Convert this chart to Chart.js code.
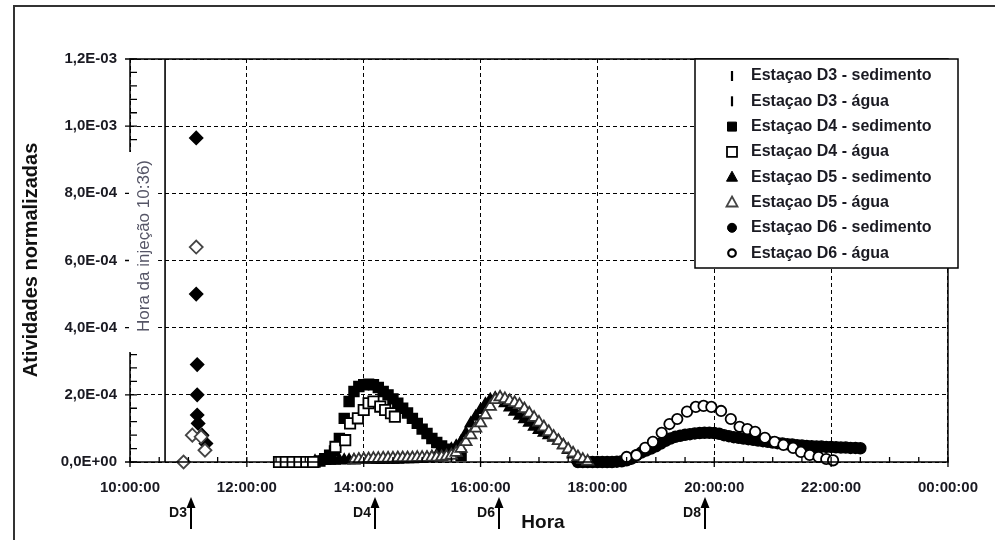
<!DOCTYPE html>
<html lang="pt">
<head>
  <meta charset="UTF-8" />
  <title>Atividades normalizadas</title>
  <script src="https://cdn.jsdelivr.net/npm/chart.js"></script>
  <style>
    body { margin: 0; background: #fff; }
    #wrap { width: 995px; height: 540px; }
  </style>
</head>
<body>
  <div id="wrap"><canvas id="grafico" width="995" height="540"></canvas></div>

  <script>
    // eixo X (horas) e eixo Y
    const xTicks = [10, 12, 14, 16, 18, 20, 22, 24];
    const xTickLabels = ['10:00:00', '12:00:00', '14:00:00', '16:00:00', '18:00:00', '20:00:00', '22:00:00', '00:00:00'];
    const yTicks = [0, 2e-4, 4e-4, 6e-4, 8e-4, 1e-3, 1.2e-3];
    const yTickLabels = ['0,0E+00', '2,0E-04', '4,0E-04', '6,0E-04', '8,0E-04', '1,0E-03', '1,2E-03'];

    // valores em unidades de 1E-04
    const d3SedT = ['11:08', '11:08', '11:09', '11:09', '11:09', '11:10', '11:14', '11:18'];
    const d3SedV = [9.65, 5.0, 2.9, 2.0, 1.4, 1.15, 0.8, 0.55];
    const d3AguaT = ['10:55', '11:04', '11:08', '11:13', '11:17'];
    const d3AguaV = [0, 0.8, 6.4, 0.75, 0.35];

    const d4SedT = ['13:00','13:05','13:10','13:15','13:20','13:25','13:30','13:35','13:40','13:45','13:50','13:55',
      '14:00','14:05','14:10','14:15','14:20','14:25','14:30','14:35','14:40','14:45','14:50','14:55',
      '15:00','15:05','15:10','15:15','15:20','15:25','15:30','15:35','15:40'];
    const d4SedV = [0, 0, 0, 0.03, 0.1, 0.2, 0.33, 0.7, 1.3, 1.8, 2.1, 2.25,
      2.3, 2.32, 2.3, 2.22, 2.1, 2.0, 1.88, 1.75, 1.6, 1.46, 1.3, 1.15,
      0.98, 0.85, 0.7, 0.58, 0.48, 0.38, 0.3, 0.25, 0.2];
    const d4AguaT = ['12:33','12:40','12:47','12:54','13:01','13:08','13:31','13:41','13:46','13:54','14:00','14:05','14:10','14:17','14:22','14:28','14:32'];
    const d4AguaV = [0, 0, 0, 0, 0, 0, 0.45, 0.65, 1.15, 1.3, 1.55, 1.75, 1.8, 1.65, 1.55, 1.45, 1.35];

    const d5SedT = ['13:10','13:15','13:20','13:25','13:30','13:35','13:40','13:45','13:50','13:55',
      '14:00','14:05','14:10','14:15','14:20','14:25','14:30','14:35','14:40','14:45','14:50','14:55',
      '15:00','15:05','15:10','15:15','15:20','15:25','15:30','15:35','15:40','15:45','15:50','15:55',
      '16:00','16:05','16:10','16:15','16:20','16:25','16:30','16:35','16:40','16:45','16:50','16:55',
      '17:00','17:05','17:10','17:15','17:20','17:25','17:30','17:35','17:40','17:45'];
    const d5SedV = [0.02, 0.03, 0.03, 0.04, 0.04, 0.05, 0.05, 0.05, 0.05, 0.06,
      0.06, 0.06, 0.06, 0.06, 0.07, 0.07, 0.07, 0.07, 0.08, 0.08, 0.08, 0.09,
      0.1, 0.12, 0.15, 0.2, 0.26, 0.32, 0.38, 0.47, 0.6, 0.85, 1.15, 1.35,
      1.55, 1.72, 1.85, 1.9, 1.85, 1.75, 1.62, 1.5, 1.38, 1.27, 1.17, 1.05,
      0.95, 0.87, 0.8, 0.72, 0.64, 0.5, 0.36, 0.22, 0.08, 0.02];
    const d5AguaT = ['13:50','13:55',
      '14:00','14:05','14:10','14:15','14:20','14:25','14:30','14:35','14:40','14:45','14:50','14:55',
      '15:00','15:05','15:10','15:15','15:20','15:25','15:30','15:35','15:40','15:45','15:50','15:55',
      '16:00','16:05','16:10','16:15','16:20','16:25','16:30','16:35','16:40','16:45','16:50','16:55',
      '17:00','17:05','17:10','17:15','17:20','17:25','17:30','17:35','17:40','17:45','17:50'];
    const d5AguaV = [0.05, 0.07,
      0.08, 0.09, 0.1, 0.1, 0.11, 0.11, 0.11, 0.12, 0.12, 0.12, 0.12, 0.13,
      0.13, 0.13, 0.14, 0.14, 0.15, 0.17, 0.2, 0.28, 0.4, 0.6, 0.8, 1.0,
      1.16, 1.4, 1.65, 1.85, 1.93, 1.88, 1.82, 1.76, 1.7, 1.58, 1.45, 1.32,
      1.18, 1.04, 0.9, 0.76, 0.63, 0.5, 0.38, 0.26, 0.15, 0.07, 0.02];

    const d6SedT = ['17:40','17:45','17:50','17:55',
      '18:00','18:05','18:10','18:15','18:20','18:25','18:30','18:35','18:40','18:45','18:50','18:55',
      '19:00','19:05','19:10','19:15','19:20','19:25','19:30','19:35','19:40','19:45','19:50','19:55',
      '20:00','20:05','20:10','20:15','20:20','20:25','20:30','20:35','20:40','20:45','20:50','20:55',
      '21:00','21:05','21:10','21:15','21:20','21:25','21:30','21:35','21:40','21:45','21:50','21:55',
      '22:00','22:05','22:10','22:15','22:20','22:25','22:30'];
    const d6SedV = [0, 0, 0, 0,
      0, 0, 0, 0, 0.01, 0.02, 0.05, 0.1, 0.2, 0.28, 0.34, 0.4,
      0.47, 0.55, 0.63, 0.7, 0.75, 0.78, 0.81, 0.83, 0.85, 0.86, 0.87, 0.87,
      0.86, 0.84, 0.8, 0.77, 0.74, 0.72, 0.7, 0.68, 0.66, 0.64, 0.62, 0.6,
      0.58, 0.56, 0.55, 0.53, 0.52, 0.5, 0.49, 0.48, 0.47, 0.46, 0.46, 0.45,
      0.45, 0.44, 0.43, 0.43, 0.42, 0.42, 0.41];
    const d6AguaT = ['18:30','18:40','18:49','18:57','19:06','19:14','19:22','19:32','19:41','19:49','19:57','20:07','20:17',
      '20:26','20:34','20:42','20:52','21:02','21:11','21:21','21:29','21:38','21:47','21:55','22:02'];
    const d6AguaV = [0.15, 0.2, 0.42, 0.6, 0.87, 1.13, 1.28, 1.5, 1.64, 1.67, 1.64, 1.52, 1.28,
      1.05, 0.98, 0.9, 0.72, 0.6, 0.51, 0.42, 0.3, 0.21, 0.15, 0.09, 0.05];

    // setas de pico e hora da injeção
    const setaT = ['11:03', '14:12', '16:19', '19:50'];
    const setaLbl = ['D3', 'D4', 'D6', 'D8'];
    const injecaoT = '10:36';

    const horas = s => { const [h, m] = s.split(':').map(Number); return h + m / 60; };
    const pontos = (t, v) => t.map((s, i) => ({ x: horas(s), y: v[i] * 1e-4 }));

    const fonte = '"Liberation Sans", Arial, sans-serif';
    Chart.defaults.font.family = fonte;

    const serie = (label, t, v, estilo, cheio, raio, ordem, borda) => ({
      label, data: pontos(t, v),
      pointStyle: estilo, pointRadius: raio, pointHoverRadius: raio,
      backgroundColor: cheio ? '#000' : '#fff',
      borderColor: borda || '#000', pointBorderWidth: cheio ? 1.5 : 1.8,
      showLine: false, clip: false, order: ordem
    });

    const datasets = [
      serie('Estaçao D3 - sedimento', d3SedT, d3SedV, 'rectRot', true, 6.5, 1),
      serie('Estaçao D3 - água', d3AguaT, d3AguaV, 'rectRot', false, 6.5, 0, '#444'),
      serie('Estaçao D4 - sedimento', d4SedT, d4SedV, 'rect', true, 7, 1),
      serie('Estaçao D4 - água', d4AguaT, d4AguaV, 'rect', false, 7.3, 0),
      serie('Estaçao D5 - sedimento', d5SedT, d5SedV, 'triangle', true, 6.5, 1),
      serie('Estaçao D5 - água', d5AguaT, d5AguaV, 'triangle', false, 6.5, 0, '#333'),
      serie('Estaçao D6 - sedimento', d6SedT, d6SedV, 'circle', true, 5.5, 1),
      serie('Estaçao D6 - água', d6AguaT, d6AguaV, 'circle', false, 5.2, 0)
    ];

    // símbolo da legenda
    function simbolo(ctx, i, x, y) {
      ctx.beginPath();
      if (i < 2) {
        ctx.lineWidth = 2.2; ctx.strokeStyle = '#000';
        ctx.moveTo(x, y - 5); ctx.lineTo(x, y + 5); ctx.stroke();
        return;
      }
      const cheio = i % 2 === 0;
      if (i < 4) { const s = cheio ? 4.5 : 5; ctx.rect(x - s, y - s, 2 * s, 2 * s); }
      else if (i < 6) { ctx.moveTo(x, y - 6); ctx.lineTo(x + 5.5, y + 4); ctx.lineTo(x - 5.5, y + 4); ctx.closePath(); }
      else { ctx.arc(x, y, cheio ? 4.5 : 3.8, 0, Math.PI * 2); }
      ctx.fillStyle = cheio ? '#000' : '#fff';
      ctx.fill();
      ctx.lineWidth = cheio ? 1 : (i === 7 ? 2.2 : 1.8);
      ctx.strokeStyle = i === 5 ? '#444' : '#000';
      ctx.stroke();
    }

    const decoracao = {
      id: 'decoracao',
      afterDraw(chart) {
        const { ctx, chartArea: a, scales: { x, y } } = chart;
        ctx.save();

        // moldura externa
        ctx.strokeStyle = '#333'; ctx.lineWidth = 2;
        ctx.beginPath(); ctx.moveTo(14, 540); ctx.lineTo(14, 6); ctx.lineTo(995, 6); ctx.stroke();

        // moldura do gráfico
        ctx.strokeStyle = '#000'; ctx.lineWidth = 1.5;
        ctx.strokeRect(a.left, a.top, a.right - a.left, a.bottom - a.top);

        // marcas dos eixos
        ctx.lineWidth = 1.3;
        ctx.beginPath();
        for (let k = 0; k <= 28; k++) {
          const px = x.getPixelForValue(10 + k / 2);
          ctx.moveTo(px, a.bottom + (k % 4 === 0 ? 5 : 0));
          ctx.lineTo(px, a.bottom - 5);
        }
        for (let k = 0; k <= 30; k++) {
          const py = y.getPixelForValue(k * 4e-5);
          ctx.moveTo(a.left - (k % 5 === 0 ? 5 : 0), py);
          ctx.lineTo(a.left + 7, py);
        }
        ctx.stroke();

        // hora da injeção
        const xi = x.getPixelForValue(horas(injecaoT));
        ctx.lineWidth = 1.6;
        ctx.beginPath(); ctx.moveTo(xi, a.top); ctx.lineTo(xi, a.bottom); ctx.stroke();
        ctx.fillStyle = '#fff';
        ctx.fillRect(a.left - 1, 152, xi - a.left - 6, 200);
        ctx.save();
        ctx.translate(144, 246);
        ctx.rotate(-Math.PI / 2);
        ctx.fillStyle = '#556';
        ctx.font = '17px ' + fonte;
        ctx.textAlign = 'center'; ctx.textBaseline = 'middle';
        ctx.fillText('Hora da injeção 10:36)', 0, 0);
        ctx.restore();

        // título do eixo Y
        ctx.save();
        ctx.translate(31, 260);
        ctx.rotate(-Math.PI / 2);
        ctx.fillStyle = '#111';
        ctx.font = 'bold 20px ' + fonte;
        ctx.textAlign = 'center'; ctx.textBaseline = 'middle';
        ctx.fillText('Atividades normalizadas', 0, 0);
        ctx.restore();

        // título do eixo X
        ctx.fillStyle = '#111';
        ctx.font = 'bold 19px ' + fonte;
        ctx.textAlign = 'center'; ctx.textBaseline = 'middle';
        ctx.fillText('Hora', 543, 523);

        // setas
        ctx.font = 'bold 14px ' + fonte;
        ctx.textAlign = 'right';
        setaT.forEach((t, i) => {
          const px = Math.round(x.getPixelForValue(horas(t)));
          ctx.strokeStyle = '#000'; ctx.fillStyle = '#000'; ctx.lineWidth = 2;
          ctx.beginPath(); ctx.moveTo(px, 506); ctx.lineTo(px, 529); ctx.stroke();
          ctx.beginPath(); ctx.moveTo(px, 497); ctx.lineTo(px - 4.5, 508); ctx.lineTo(px + 4.5, 508); ctx.closePath(); ctx.fill();
          ctx.fillStyle = '#111';
          ctx.fillText(setaLbl[i], px - 4, 513);
        });

        // legenda
        const lx = 695, ly = 59, lw = 263, lh = 209;
        ctx.fillStyle = '#fff';
        ctx.fillRect(lx, ly, lw, lh);
        ctx.strokeStyle = '#000'; ctx.lineWidth = 1.5;
        ctx.strokeRect(lx, ly, lw, lh);
        ctx.font = 'bold 16px ' + fonte;
        ctx.textAlign = 'left'; ctx.textBaseline = 'middle';
        chart.data.datasets.forEach((ds, i) => {
          const ry = 76 + i * 25.3;
          simbolo(ctx, i, 732, ry);
          ctx.fillStyle = '#1a1a22';
          ctx.fillText(ds.label, 751, ry);
        });

        ctx.restore();
      }
    };

    new Chart(document.getElementById('grafico'), {
      type: 'scatter',
      data: { datasets },
      options: {
        responsive: false,
        animation: false,
        layout: { padding: { top: 59, right: 31, left: 0, bottom: 0 } },
        plugins: { legend: { display: false }, tooltip: { enabled: false } },
        scales: {
          x: {
            type: 'linear', min: 10, max: 24,
            afterBuildTicks: s => { s.ticks = xTicks.map(v => ({ value: v })); },
            afterFit: s => { s.height = 78; },
            ticks: {
              callback: (v) => xTickLabels[xTicks.indexOf(v)],
              padding: 17, maxRotation: 0, autoSkip: false,
              color: '#1a1a22', font: { size: 15, weight: 'bold' }
            },
            grid: { color: '#000', lineWidth: 1, drawTicks: false },
            border: { display: false, dash: [4, 3] }
          },
          y: {
            type: 'linear', min: 0, max: 1.2e-3,
            afterBuildTicks: s => { s.ticks = yTicks.map(v => ({ value: v })); },
            afterFit: s => { s.width = 130; },
            ticks: {
              callback: (v) => yTickLabels[yTicks.indexOf(v)],
              padding: 13, autoSkip: false,
              color: '#1a1a22', font: { size: 15, weight: 'bold' }
            },
            grid: { color: '#000', lineWidth: 1, drawTicks: false },
            border: { display: false, dash: [4, 3] }
          }
        }
      },
      plugins: [decoracao]
    });
  </script>
</body>
</html>
